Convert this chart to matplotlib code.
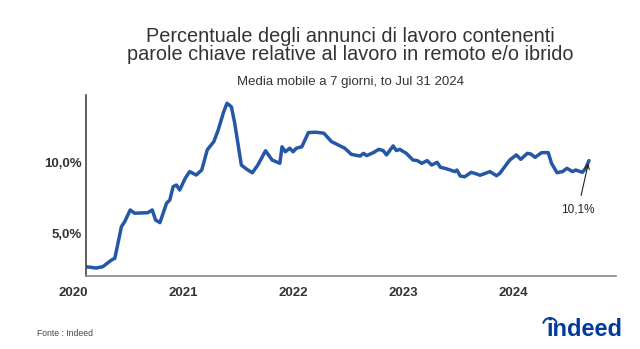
import matplotlib
matplotlib.use("Agg")
import matplotlib.pyplot as plt
import matplotlib.transforms as mtransforms
from matplotlib.patches import Arc

plt.rcParams['font.family'] = ['Liberation Sans', 'DejaVu Sans']

# valori (anno decimale, % annunci)
anno = [2020.12, 2020.21, 2020.27, 2020.35, 2020.38, 2020.44, 2020.47, 2020.52, 2020.56,
        2020.68, 2020.72, 2020.75, 2020.79, 2020.85, 2020.88, 2020.91, 2020.94, 2020.97,
        2021.02, 2021.06, 2021.12, 2021.17, 2021.22, 2021.28, 2021.32, 2021.37, 2021.40,
        2021.44, 2021.47, 2021.53, 2021.58, 2021.63, 2021.68, 2021.75, 2021.81, 2021.88,
        2021.90, 2021.93, 2021.97, 2022.00, 2022.03, 2022.08, 2022.14, 2022.21, 2022.28,
        2022.35, 2022.41, 2022.47, 2022.53, 2022.61, 2022.64, 2022.67, 2022.73, 2022.78,
        2022.82, 2022.85, 2022.91, 2022.94, 2022.97, 2023.03, 2023.09, 2023.13, 2023.17,
        2023.22, 2023.26, 2023.31, 2023.34, 2023.38, 2023.43, 2023.47, 2023.49, 2023.52,
        2023.56, 2023.62, 2023.67, 2023.70, 2023.79, 2023.85, 2023.88, 2023.97, 2024.03,
        2024.07, 2024.13, 2024.16, 2024.20, 2024.26, 2024.32, 2024.35, 2024.40, 2024.45,
        2024.49, 2024.54, 2024.57, 2024.63, 2024.66, 2024.69]
valori = [2.69, 2.60, 2.69, 3.16, 3.28, 5.50, 5.85, 6.67, 6.44,
          6.48, 6.67, 5.97, 5.78, 7.14, 7.37, 8.30, 8.42, 8.07,
          8.89, 9.36, 9.12, 9.47, 10.88, 11.46, 12.28, 13.56, 14.15,
          13.90, 12.75, 9.82, 9.52, 9.28, 9.82, 10.82, 10.17, 9.94,
          11.10, 10.75, 11.00, 10.75, 11.00, 11.10, 12.10, 12.12, 12.05,
          11.46, 11.23, 11.00, 10.57, 10.45, 10.64, 10.48, 10.69, 10.92,
          10.83, 10.53, 11.16, 10.83, 10.92, 10.64, 10.17, 10.13, 9.94,
          10.13, 9.82, 10.01, 9.66, 9.59, 9.47, 9.36, 9.47, 9.05,
          9.00, 9.31, 9.19, 9.10, 9.36, 9.07, 9.24, 10.17, 10.53,
          10.22, 10.64, 10.60, 10.36, 10.69, 10.69, 9.94, 9.28, 9.36,
          9.59, 9.36, 9.47, 9.31, 9.59, 10.13]
anni_tick = [2020, 2021, 2022, 2023, 2024]
y_tick = [5, 10]
y_labels = ['5,0%', '10,0%']

fig = plt.figure(figsize=(6.4, 3.49), dpi=100)
ax = fig.add_axes([86/640, 1-276/349, (616-86)/640, (276-95)/349])

ax.plot(anno, valori, color='#2557a7', lw=2.5, solid_capstyle='round')

# 2020 cade a sinistra dell'asse: etichetta disegnata a mano
ax.set_xticks(anni_tick[1:])
ax.set_xticklabels([str(a) for a in anni_tick[1:]], fontsize=9.5, fontweight='bold', color='#333333')
trans = mtransforms.blended_transform_factory(ax.transData, ax.transAxes)
ax.text(anni_tick[0], -0.062, str(anni_tick[0]), transform=trans, fontsize=9.5, fontweight='bold',
        color='#333333', ha='center', va='top', clip_on=False)
ax.set_yticks(y_tick)
ax.set_yticklabels(y_labels, fontsize=9.5, fontweight='bold', color='#333333')
ax.tick_params(axis='x', length=0, pad=8)
ax.tick_params(axis='y', length=0, pad=3)
ax.set_xlim(2020.118, 2024.936)
ax.set_ylim(2.04, 14.73)

for s in ['top', 'right']:
    ax.spines[s].set_visible(False)
ax.spines['left'].set_color('#444444')
ax.spines['bottom'].set_color('#888888')
ax.spines['left'].set_linewidth(1.2)
ax.spines['bottom'].set_linewidth(1.2)

ax.annotate('10,1%', xy=(anno[-1], valori[-1]), xytext=(anno[-1] - 0.1, 6.7),
            fontsize=8.5, color='#222222', ha='center', va='center',
            arrowprops=dict(arrowstyle='->', color='#222222', lw=0.8, shrinkA=4, shrinkB=2))

fig.text(0.547, 1-36/349, 'Percentuale degli annunci di lavoro contenenti',
         fontsize=14.3, color='#333333', ha='center', va='center')
fig.text(0.547, 1-54.5/349, 'parole chiave relative al lavoro in remoto e/o ibrido',
         fontsize=14.3, color='#333333', ha='center', va='center')
fig.text(0.547, 1-82/349, 'Media mobile a 7 giorni, to Jul 31 2024',
         fontsize=9.5, color='#333333', ha='center', va='center')

fig.text(37/640, 1-334/349, 'Fonte : Indeed', fontsize=6.2, color='#444444', ha='left', va='center')
fig.text(622/640, 1-330/349, 'indeed', fontsize=17, fontweight='bold', color='#003a9b',
         ha='right', va='center')
fig.patches.append(Arc((550/640, 1-325/349), 14/640, 14/349, theta1=30, theta2=160,
                       transform=fig.transFigure, color='#003a9b', lw=1.4))

fig.savefig('out.png', dpi=100)
